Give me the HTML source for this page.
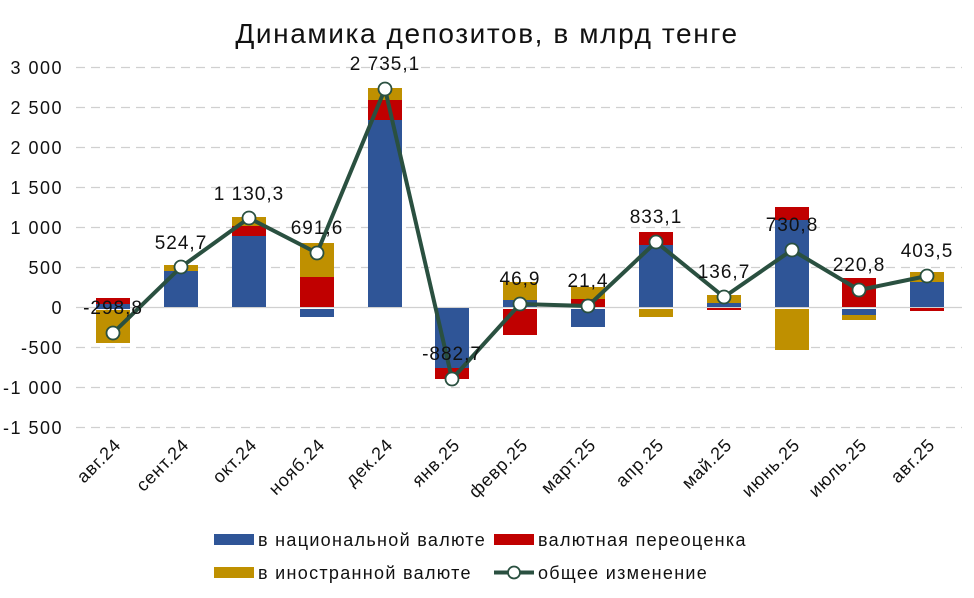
<!DOCTYPE html>
<html><head><meta charset="utf-8"><style>
body{margin:0;background:#fff;}
svg{display:block;font-family:"Liberation Sans",sans-serif;}
</style></head><body>
<svg width="974" height="598" viewBox="0 0 974 598" xmlns="http://www.w3.org/2000/svg">
<text x="487" y="43" text-anchor="middle" font-size="28" letter-spacing="1.6" fill="#111">Динамика депозитов, в млрд тенге</text>
<g stroke="#d0d0d0" stroke-width="1.3" stroke-dasharray="9,6">
<line x1="76" x2="962" y1="67.5" y2="67.5"/><line x1="76" x2="962" y1="107.5" y2="107.5"/>
<line x1="76" x2="962" y1="147.5" y2="147.5"/><line x1="76" x2="962" y1="187.5" y2="187.5"/>
<line x1="76" x2="962" y1="227.5" y2="227.5"/><line x1="76" x2="962" y1="267.5" y2="267.5"/>
<line x1="76" x2="962" y1="347.5" y2="347.5"/><line x1="76" x2="962" y1="387.5" y2="387.5"/>
<line x1="76" x2="962" y1="427.5" y2="427.5"/>
</g>
<line x1="76" x2="962" y1="307.5" y2="307.5" stroke="#d0d0d0" stroke-width="1.3"/>
<g font-size="18" letter-spacing="1.5" fill="#111" text-anchor="end">
<text x="63" y="74">3 000</text><text x="63" y="114">2 500</text><text x="63" y="154">2 000</text>
<text x="63" y="194">1 500</text><text x="63" y="234">1 000</text><text x="63" y="274">500</text>
<text x="63" y="314">0</text><text x="63" y="354">-500</text><text x="63" y="394">-1 000</text>
<text x="63" y="434">-1 500</text>
</g>
<g>
<rect x="96" y="298" width="34" height="6" fill="#C00000"/><rect x="96" y="304" width="34" height="5" fill="#2F5597"/><rect x="96" y="310" width="34" height="33" fill="#BF9000"/>
<rect x="164" y="265" width="34" height="6" fill="#BF9000"/><rect x="164" y="271" width="34" height="36" fill="#2F5597"/>
<rect x="232" y="217" width="34" height="9" fill="#BF9000"/><rect x="232" y="226" width="34" height="10" fill="#C00000"/><rect x="232" y="236" width="34" height="71" fill="#2F5597"/>
<rect x="300" y="243" width="34" height="34" fill="#BF9000"/><rect x="300" y="277" width="34" height="30" fill="#C00000"/><rect x="300" y="309" width="34" height="8" fill="#2F5597"/>
<rect x="368" y="88" width="34" height="12" fill="#BF9000"/><rect x="368" y="100" width="34" height="20" fill="#C00000"/><rect x="368" y="120" width="34" height="187" fill="#2F5597"/>
<rect x="435" y="308" width="34" height="60" fill="#2F5597"/><rect x="435" y="368" width="34" height="11" fill="#C00000"/>
<rect x="503" y="282" width="34" height="18" fill="#BF9000"/><rect x="503" y="300" width="34" height="7" fill="#2F5597"/><rect x="503" y="309" width="34" height="26" fill="#C00000"/>
<rect x="571" y="287" width="34" height="12" fill="#BF9000"/><rect x="571" y="299" width="34" height="8" fill="#C00000"/><rect x="571" y="309" width="34" height="18" fill="#2F5597"/>
<rect x="639" y="232" width="34" height="13" fill="#C00000"/><rect x="639" y="245" width="34" height="62" fill="#2F5597"/><rect x="639" y="309" width="34" height="8" fill="#BF9000"/>
<rect x="707" y="295" width="34" height="8" fill="#BF9000"/><rect x="707" y="303" width="34" height="4" fill="#2F5597"/><rect x="707" y="308" width="34" height="2" fill="#C00000"/>
<rect x="775" y="207" width="34" height="13" fill="#C00000"/><rect x="775" y="220" width="34" height="87" fill="#2F5597"/><rect x="775" y="309" width="34" height="41" fill="#BF9000"/>
<rect x="842" y="278" width="34" height="29" fill="#C00000"/><rect x="842" y="309" width="34" height="6" fill="#2F5597"/><rect x="842" y="315" width="34" height="5" fill="#BF9000"/>
<rect x="910" y="272" width="34" height="10" fill="#BF9000"/><rect x="910" y="282" width="34" height="25" fill="#2F5597"/><rect x="910" y="308" width="34" height="3" fill="#C00000"/>
</g>
<polyline fill="none" stroke="#2A5040" stroke-width="4" stroke-linejoin="round" points="113,333 181,267 249,218 317,253 385,89 452,379 520,304 588,306 656,242 724,297 792,250 859,290 927,276"/>
<g fill="#fff" stroke="#2A5040" stroke-width="1.8">
<circle cx="113" cy="333" r="6.5"/><circle cx="181" cy="267" r="6.5"/><circle cx="249" cy="218" r="6.5"/><circle cx="317" cy="253" r="6.5"/><circle cx="385" cy="89" r="6.5"/><circle cx="452" cy="379" r="6.5"/><circle cx="520" cy="304" r="6.5"/><circle cx="588" cy="306" r="6.5"/><circle cx="656" cy="242" r="6.5"/><circle cx="724" cy="297" r="6.5"/><circle cx="792" cy="250" r="6.5"/><circle cx="859" cy="290" r="6.5"/><circle cx="927" cy="276" r="6.5"/>
</g>
<g font-size="19" letter-spacing="1" fill="#111" text-anchor="middle">
<text x="113" y="314">-298,8</text><text x="181" y="249">524,7</text><text x="249" y="200">1 130,3</text>
<text x="317" y="234">691,6</text><text x="385" y="70">2 735,1</text><text x="452" y="360">-882,7</text>
<text x="520" y="285">46,9</text><text x="588" y="287">21,4</text><text x="656" y="223">833,1</text>
<text x="724" y="278">136,7</text><text x="792" y="231">730,8</text><text x="859" y="271">220,8</text>
<text x="927" y="257">403,5</text>
</g>
<g font-size="18" letter-spacing="0.8" fill="#111" text-anchor="end">
<text transform="translate(122,446) rotate(-45)">авг.24</text>
<text transform="translate(190,446) rotate(-45)">сент.24</text>
<text transform="translate(258,446) rotate(-45)">окт.24</text>
<text transform="translate(326,446) rotate(-45)">нояб.24</text>
<text transform="translate(394,446) rotate(-45)">дек.24</text>
<text transform="translate(461,446) rotate(-45)">янв.25</text>
<text transform="translate(529,446) rotate(-45)">февр.25</text>
<text transform="translate(597,446) rotate(-45)">март.25</text>
<text transform="translate(665,446) rotate(-45)">апр.25</text>
<text transform="translate(733,446) rotate(-45)">май.25</text>
<text transform="translate(801,446) rotate(-45)">июнь.25</text>
<text transform="translate(868,446) rotate(-45)">июль.25</text>
<text transform="translate(936,446) rotate(-45)">авг.25</text>
</g>
<g font-size="18" letter-spacing="1.3" fill="#111">
<rect x="214" y="534" width="40" height="11" fill="#2F5597"/><text x="258" y="546">в национальной валюте</text>
<rect x="494" y="534" width="40" height="11" fill="#C00000"/><text x="538" y="546">валютная переоценка</text>
<rect x="214" y="567" width="40" height="11" fill="#BF9000"/><text x="258" y="579">в иностранной валюте</text>
<line x1="494" x2="534" y1="572.5" y2="572.5" stroke="#2A5040" stroke-width="4"/><circle cx="514" cy="572.5" r="6" fill="#fff" stroke="#2A5040" stroke-width="1.8"/><text x="538" y="579">общее изменение</text>
</g>
</svg>
</body></html>
